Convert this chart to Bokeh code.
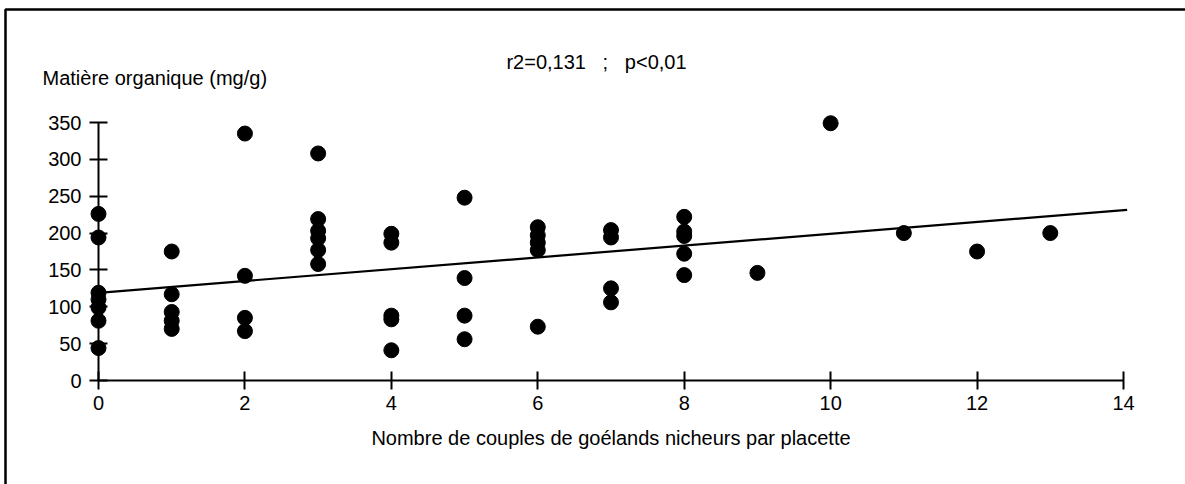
from bokeh.plotting import figure
from bokeh.models import Range1d, LinearAxis, FixedTicker, Label, BoxAnnotation
from bokeh.embed import file_html
from bokeh.resources import INLINE

# Matière organique du sol selon le nombre de couples nicheurs par placette
couples = [0, 0, 0, 0, 0, 0, 0,
           1, 1, 1, 1, 1,
           2, 2, 2, 2,
           3, 3, 3, 3, 3, 3,
           4, 4, 4, 4, 4,
           5, 5, 5, 5,
           6, 6, 6, 6, 6,
           7, 7, 7, 7,
           8, 8, 8, 8, 8,
           9, 10, 11, 12, 13]
matiere = [226, 194, 119, 110, 99, 81, 44,
           175, 117, 93, 81, 70,
           335, 142, 85, 67,
           308, 219, 203, 193, 177, 158,
           199, 187, 88, 83, 41,
           248, 139, 88, 56,
           208, 197, 187, 177, 73,
           204, 194, 125, 106,
           222, 202, 196, 172, 143,
           146, 349, 200, 175, 200]

# droite de régression
fit_x = [0, 14.05]
fit_intercept = 119.0
fit_slope = 8.0

x_ticks = [0, 2, 4, 6, 8, 10, 12, 14]
y_ticks = [0, 50, 100, 150, 200, 250, 300, 350]

FONT = "Liberation Sans"
FS = "20px"

W, H = 1185, 484
# pixel placement of the axes inside the page
x0_px, x14_px = 98.0, 1123.0
y0_px, y350_px = 380.0, 122.0
kx = (x14_px - x0_px) / 14.0
ky = (y0_px - y350_px) / 350.0
xmin = -x0_px / kx
xmax = xmin + W / kx
ymax = y0_px / ky
ymin = ymax - H / ky

p = figure(width=W, height=H, output_backend="svg", toolbar_location=None,
           x_range=Range1d(xmin, xmax), y_range=Range1d(ymin, ymax),
           x_axis_location=None, y_axis_location=None, min_border=0,
           background_fill_color="white", border_fill_color="white",
           outline_line_color=None)
p.xgrid.visible = False
p.ygrid.visible = False

xaxis = LinearAxis(fixed_location=0, bounds=(0, 14),
                   ticker=FixedTicker(ticks=x_ticks),
                   axis_label="Nombre de couples de goélands nicheurs par placette")
yaxis = LinearAxis(fixed_location=0, bounds=(0, 350),
                   ticker=FixedTicker(ticks=y_ticks))
for ax in (xaxis, yaxis):
    ax.axis_line_width = 2
    ax.axis_line_color = "black"
    ax.major_tick_line_width = 2
    ax.major_tick_line_color = "black"
    ax.major_tick_in = 9
    ax.major_tick_out = 9
    ax.minor_tick_line_color = None
    ax.major_label_text_font = FONT
    ax.major_label_text_font_size = FS
    ax.major_label_text_color = "black"
    ax.axis_label_text_font = FONT
    ax.axis_label_text_font_size = FS
    ax.axis_label_text_font_style = "normal"
    ax.axis_label_text_color = "black"
xaxis.major_label_standoff = 6
xaxis.axis_label_standoff = 14
yaxis.major_label_standoff = 8
p.add_layout(xaxis, "below")
p.add_layout(yaxis, "left")

fit_y = [fit_intercept + fit_slope * v for v in fit_x]
p.line(fit_x, fit_y, line_color="black", line_width=2.2)
p.scatter(couples, matiere, size=15, marker="circle",
          fill_color="black", line_color="black")

p.add_layout(Label(x=xmin + 42 / kx, y=ymax - 77 / ky,
                   text="Matière organique (mg/g)",
                   text_font=FONT, text_font_size=FS, text_color="black",
                   text_baseline="middle", text_align="left"))
gap = "\u00a0" * 3
p.add_layout(Label(x=xmin + 596 / kx, y=ymax - 61 / ky,
                   text="r2=0,131" + gap + ";" + gap + "p<0,01",
                   text_font=FONT, text_font_size=FS, text_color="black",
                   text_baseline="middle", text_align="center"))

# cadre de la figure
p.add_layout(BoxAnnotation(left=xmin + 5 / kx, top=ymax - 9 / ky,
                           right=xmax + 2, bottom=ymin - 50,
                           fill_color=None, fill_alpha=0,
                           line_color="black", line_alpha=1.0, line_width=2.5))

open("out.html", "w").write(file_html(p, INLINE))
